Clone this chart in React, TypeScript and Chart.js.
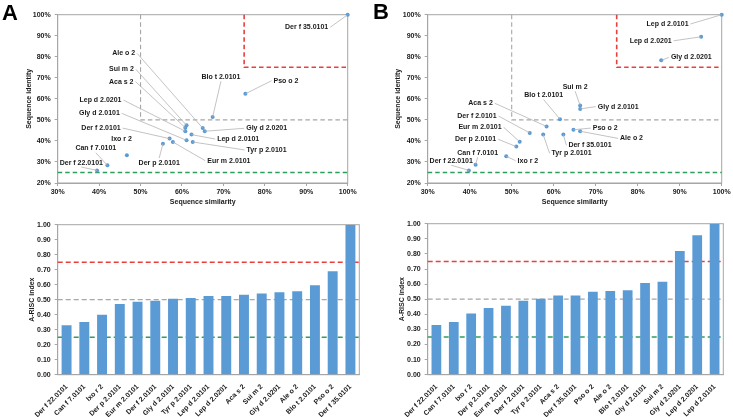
import React, { useEffect, useRef } from 'react';
import { Chart, registerables } from 'chart.js';

Chart.register(...registerables);

const FONT = '"Liberation Sans", Arial, Helvetica, sans-serif';
const TEXT = '#1a1a1a';
const AXIS = '#a6a6a6';
const BLUE = '#5B9BD5';
const RED = '#E8413C';
const GREY = '#A6A6A6';
const GREEN = '#2E9E5B';
const LEADER = '#b4b4b4';

Chart.defaults.font.family = FONT;
Chart.defaults.font.size = 7;
Chart.defaults.font.weight = 'bold';
Chart.defaults.color = TEXT;

// ---------- Panel A scatter ----------
const A_NAMES = [
  'Der f 35.0101', 'Pso o 2', 'Blo t 2.0101', 'Ale o 2', 'Gly d 2.0201', 'Sui m 2', 'Aca s 2',
  'Lep d 2.0201', 'Lep d 2.0101', 'Gly d 2.0101', 'Tyr p 2.0101', 'Der f 2.0101', 'Eur m 2.0101',
  'Der p 2.0101', 'Ixo r 2', 'Can f 7.0101', 'Der f 22.0101',
];
const A_SIMILARITY = [100, 75.3, 67.4, 65.0, 65.5, 61.1, 60.8, 60.8, 62.3, 61.1, 62.6, 57.0, 57.8, 55.4, 46.7, 42.0, 39.5];
const A_IDENTITY = [100, 62.4, 51.4, 46.1, 44.6, 47.4, 46.3, 44.6, 43.0, 40.3, 39.5, 41.1, 39.5, 38.7, 33.2, 28.4, 26.0];
// label anchors (in axis units) and which side the leader line leaves from
const A_LABEL_X = [95.3, 82.1, 69.4, 48.7, 75.5, 48.4, 48.3, 45.4, 68.5, 45.0, 75.6, 45.2, 66.1, 54.5, 45.4, 39.2, 35.7];
const A_LABEL_Y = [94.0, 68.6, 70.5, 81.6, 46.0, 74.0, 68.2, 59.4, 40.9, 53.1, 35.7, 46.1, 30.6, 29.7, 40.8, 36.5, 29.7];
const A_LABEL_SIDE = ['R', 'L', 'C', 'R', 'L', 'R', 'R', 'R', 'L', 'R', 'L', 'R', 'L', 'C', 'N', 'C', 'C'];

// ---------- Panel B scatter ----------
const B_NAMES = [
  'Lep d 2.0101', 'Lep d 2.0201', 'Gly d 2.0201', 'Sui m 2', 'Gly d 2.0101', 'Blo t 2.0101', 'Aca s 2',
  'Der f 2.0101', 'Tyr p 2.0101', 'Der f 35.0101', 'Pso o 2', 'Ale o 2', 'Eur m 2.0101', 'Der p 2.0101',
  'Ixo r 2', 'Can f 7.0101', 'Der f 22.0101',
];
const B_SIMILARITY = [100, 95.1, 85.6, 66.3, 66.3, 61.5, 58.3, 54.3, 57.5, 62.3, 64.7, 66.3, 51.9, 51.1, 48.7, 41.4, 39.8];
const B_IDENTITY = [100, 89.5, 78.3, 56.8, 55.2, 50.3, 46.9, 43.8, 43.0, 43.0, 45.3, 44.6, 39.6, 37.3, 32.7, 28.7, 26.0];
const B_LABEL_X = [92.1, 88.1, 87.9, 65.1, 70.5, 57.6, 45.5, 46.4, 59.5, 63.5, 69.3, 75.8, 47.6, 46.3, 51.4, 41.9, 35.6];
const B_LABEL_Y = [95.6, 87.6, 79.7, 65.8, 56.3, 61.8, 57.9, 51.8, 34.1, 37.9, 46.1, 41.2, 46.5, 40.8, 30.6, 34.4, 30.6];
const B_LABEL_SIDE = ['R', 'R', 'L', 'C', 'L', 'C', 'R', 'R', 'L', 'L', 'L', 'L', 'R', 'R', 'L', 'C', 'C'];

// ---------- Bars ----------
const A_BAR_NAMES = [
  'Der f 22.0101', 'Can f 7.0101', 'Ixo r 2', 'Der p 2.0101', 'Eur m 2.0101', 'Der f 2.0101', 'Gly d 2.0101',
  'Tyr p 2.0101', 'Lep d 2.0101', 'Lep d 2.0201', 'Aca s 2', 'Sui m 2', 'Gly d 2.0201', 'Ale o 2',
  'Blo t 2.0101', 'Pso o 2', 'Der f 35.0101',
];
const A_BAR_VALUES = [0.329, 0.351, 0.400, 0.471, 0.487, 0.493, 0.507, 0.511, 0.524, 0.524, 0.533, 0.542, 0.549, 0.556, 0.596, 0.689, 1.0];

const B_BAR_NAMES = [
  'Der f 22.0101', 'Can f 7.0101', 'Ixo r 2', 'Der p 2.0101', 'Eur m 2.0101', 'Der f 2.0101', 'Tyr p 2.0101',
  'Aca s 2', 'Der f 35.0101', 'Pso o 2', 'Ale o 2', 'Blo t 2.0101', 'Gly d 2.0101', 'Sui m 2',
  'Gly d 2.0201', 'Lep d 2.0201', 'Lep d 2.0101',
];
const B_BAR_VALUES = [0.329, 0.349, 0.406, 0.442, 0.457, 0.490, 0.503, 0.525, 0.525, 0.550, 0.554, 0.559, 0.607, 0.616, 0.819, 0.923, 1.0];

// thresholds
const SIM_CUT = 50;
const ID_CUT = 50;
const HIGH_CUT = 75;
const LOW_ID = 25;
const BAR_LEVELS = [0.75, 0.5, 0.25];
const BAR_LEVEL_COLORS = [RED, GREY, GREEN];

type Panel = {
  left: number; top: number; width: number; height: number;
  plotLeft: number; plotRight: number; plotTop: number; plotBottom: number;
  yTitlePad: number; xTitlePad?: number;
};

const P_SA: Panel = { left: 0, top: 0, width: 366, height: 210, plotLeft: 57.7, plotRight: 347.7, plotTop: 14.7, plotBottom: 183, yTitlePad: 24.8, xTitlePad: 3.8 };
const P_SB: Panel = { left: 366, top: 0, width: 367, height: 210, plotLeft: 61.7, plotRight: 355.7, plotTop: 14.7, plotBottom: 183, yTitlePad: 28.1, xTitlePad: 3.8 };
const P_BA: Panel = { left: 0, top: 210, width: 366, height: 207, plotLeft: 57.7, plotRight: 359.3, plotTop: 14.7, plotBottom: 164.7, yTitlePad: 27.5 };
const P_BB: Panel = { left: 366, top: 210, width: 367, height: 207, plotLeft: 61.7, plotRight: 357.3, plotTop: 13.7, plotBottom: 164.7, yTitlePad: 32.1 };

const boxPlugin = {
  id: 'plotBox',
  beforeDatasetsDraw(chart: any) {
    const { ctx, chartArea: a } = chart;
    ctx.save();
    ctx.strokeStyle = AXIS;
    ctx.lineWidth = 1;
    ctx.strokeRect(a.left, a.top, a.right - a.left, a.bottom - a.top);
    ctx.restore();
  },
};

function makeLeaderPlugin(names: string[], xs: number[], ys: number[], lx: number[], ly: number[], side: string[]) {
  return {
    id: 'leaderLabels',
    afterDatasetsDraw(chart: any) {
      const { ctx } = chart;
      const x = chart.scales.x;
      const y = chart.scales.y;
      ctx.save();
      ctx.font = `bold 7px ${FONT}`;
      ctx.textBaseline = 'middle';
      ctx.fillStyle = TEXT;
      names.forEach((name, i) => {
        const px = x.getPixelForValue(xs[i]);
        const py = y.getPixelForValue(ys[i]);
        const ax = x.getPixelForValue(lx[i]);
        const ay = y.getPixelForValue(ly[i]);
        const w = ctx.measureText(name).width;
        let tx = ax - w / 2;
        let sx = ax;
        let sy = py > ay ? ay + 4.5 : ay - 4.5;
        if (side[i] === 'R') { tx = ax - w; sx = ax + 2; sy = ay; }
        if (side[i] === 'L') { tx = ax; sx = ax - 2; sy = ay; }
        if (side[i] !== 'N') {
          ctx.strokeStyle = LEADER;
          ctx.lineWidth = 0.8;
          ctx.beginPath();
          ctx.moveTo(sx, sy);
          ctx.lineTo(px, py);
          ctx.stroke();
        }
        ctx.fillText(name, tx, ay);
      });
      ctx.restore();
    },
  };
}

const barLevelPlugin = {
  id: 'barLevels',
  beforeDatasetsDraw(chart: any) {
    const { ctx, chartArea: a } = chart;
    const y = chart.scales.y;
    ctx.save();
    BAR_LEVELS.forEach((v, i) => {
      const py = y.getPixelForValue(v);
      ctx.strokeStyle = BAR_LEVEL_COLORS[i];
      ctx.lineWidth = BAR_LEVEL_COLORS[i] === GREY ? 1.2 : 1.4;
      ctx.setLineDash([5, 3]);
      ctx.beginPath();
      ctx.moveTo(a.left, py);
      ctx.lineTo(a.right, py);
      ctx.stroke();
    });
    ctx.restore();
  },
};

function scatterConfig(p: Panel, names: string[], xs: number[], ys: number[], lx: number[], ly: number[], side: string[]): any {
  const refLine = (pts: { x: number; y: number }[], color: string, width: number) => ({
    data: pts, showLine: true, borderColor: color, borderWidth: width, borderDash: [4.5, 3],
    pointRadius: 0, fill: false, clip: false, order: 5,
  });
  return {
    type: 'scatter',
    data: {
      datasets: [
        {
          data: xs.map((v, i) => ({ x: v, y: ys[i] })),
          backgroundColor: BLUE, borderColor: BLUE, pointRadius: 2, pointHoverRadius: 2, borderWidth: 0,
          clip: false, order: 0,
        },
        refLine([{ x: SIM_CUT, y: 100 }, { x: SIM_CUT, y: ID_CUT }, { x: 100, y: ID_CUT }], GREY, 1.1),
        refLine([{ x: HIGH_CUT, y: 100 }, { x: HIGH_CUT, y: HIGH_CUT }, { x: 100, y: HIGH_CUT }], RED, 1.6),
        refLine([{ x: 30, y: LOW_ID }, { x: 100, y: LOW_ID }], GREEN, 1.5),
      ],
    },
    options: {
      animation: false, responsive: false, events: [],
      layout: { padding: { left: 0, top: p.plotTop, right: p.width - p.plotRight, bottom: 0 } },
      plugins: { legend: { display: false }, tooltip: { enabled: false } },
      scales: {
        x: {
          type: 'linear', min: 30, max: 100,
          ticks: { stepSize: 10, callback: (v: any) => v + '%', color: TEXT, padding: 2, maxRotation: 0 },
          grid: { drawOnChartArea: false, tickLength: 3, color: AXIS },
          border: { color: AXIS, width: 1 },
          title: { display: true, text: 'Sequence similarity', color: TEXT, padding: { top: 0, bottom: p.xTitlePad } },
          afterFit: (s: any) => { s.height = p.height - p.plotBottom; },
        },
        y: {
          type: 'linear', min: 20, max: 100,
          ticks: { stepSize: 10, callback: (v: any) => v + '%', color: TEXT, padding: 4 },
          grid: { drawOnChartArea: false, tickLength: 3, color: AXIS },
          border: { color: AXIS, width: 1 },
          title: { display: true, text: 'Sequence identity', color: TEXT, padding: { top: p.yTitlePad, bottom: 0 } },
          afterFit: (s: any) => { s.width = p.plotLeft; },
        },
      },
    },
    plugins: [boxPlugin, makeLeaderPlugin(names, xs, ys, lx, ly, side)],
  };
}

function barConfig(p: Panel, names: string[], values: number[]): any {
  return {
    type: 'bar',
    data: {
      labels: names,
      datasets: [{ data: values, backgroundColor: BLUE, borderWidth: 0, barPercentage: 0.56, categoryPercentage: 1 }],
    },
    options: {
      animation: false, responsive: false, events: [],
      layout: { padding: { left: 0, top: p.plotTop, right: p.width - p.plotRight, bottom: 0 } },
      plugins: { legend: { display: false }, tooltip: { enabled: false } },
      scales: {
        x: {
          type: 'category',
          ticks: { autoSkip: false, maxRotation: 45, minRotation: 45, padding: 0, color: TEXT },
          grid: { display: false },
          border: { color: AXIS, width: 1 },
          afterFit: (s: any) => { s.height = p.height - p.plotBottom; },
        },
        y: {
          type: 'linear', min: 0, max: 1,
          ticks: { stepSize: 0.1, callback: (v: any) => Number(v).toFixed(2), color: TEXT, padding: 4 },
          grid: { drawOnChartArea: false, tickLength: 3, color: AXIS },
          border: { color: AXIS, width: 1 },
          title: { display: true, text: 'A-RISC index', color: TEXT, padding: { top: p.yTitlePad, bottom: 0 } },
          afterFit: (s: any) => { s.width = p.plotLeft; },
        },
      },
    },
    plugins: [boxPlugin, barLevelPlugin],
  };
}

function ChartCanvas({ panel, make }: { panel: Panel; make: () => any }) {
  const ref = useRef<HTMLCanvasElement | null>(null);
  useEffect(() => {
    if (!ref.current) return;
    const chart = new Chart(ref.current, make());
    return () => chart.destroy();
  }, []);
  return (
    <canvas
      ref={ref}
      width={panel.width}
      height={panel.height}
      style={{ position: 'absolute', left: panel.left, top: panel.top, width: panel.width, height: panel.height }}
    />
  );
}

const letterStyle: React.CSSProperties = {
  position: 'absolute', fontFamily: FONT, fontWeight: 'bold', fontSize: 22, lineHeight: '22px', color: '#000',
};

export default function App() {
  return (
    <div style={{ position: 'absolute', left: 0, top: 0, width: 733, height: 417, background: '#fff', overflow: 'hidden' }}>
      <ChartCanvas panel={P_SA} make={() => scatterConfig(P_SA, A_NAMES, A_SIMILARITY, A_IDENTITY, A_LABEL_X, A_LABEL_Y, A_LABEL_SIDE)} />
      <ChartCanvas panel={P_SB} make={() => scatterConfig(P_SB, B_NAMES, B_SIMILARITY, B_IDENTITY, B_LABEL_X, B_LABEL_Y, B_LABEL_SIDE)} />
      <ChartCanvas panel={P_BA} make={() => barConfig(P_BA, A_BAR_NAMES, A_BAR_VALUES)} />
      <ChartCanvas panel={P_BB} make={() => barConfig(P_BB, B_BAR_NAMES, B_BAR_VALUES)} />
      <div style={{ ...letterStyle, left: 2, top: 1.5 }}>A</div>
      <div style={{ ...letterStyle, left: 373, top: 0.5 }}>B</div>
    </div>
  );
}
